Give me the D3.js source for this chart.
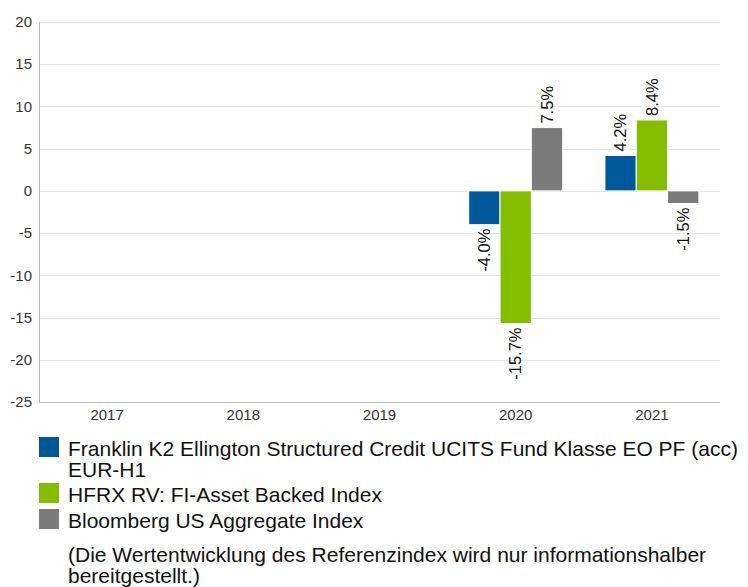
<!DOCTYPE html>
<html>
<head>
<meta charset="utf-8">
<script src="https://cdn.jsdelivr.net/npm/d3@7"></script>
<style>
  body { margin: 0; background: #fff; }
  svg { display: block; font-family: "Liberation Sans", Arial, sans-serif; }
</style>
</head>
<body>
<div id="chart"></div>
<script>
const years = ["2017", "2018", "2019", "2020", "2021"];
const seriesNames = [
    "Franklin K2 Ellington Structured Credit UCITS Fund Klasse EO PF (acc) EUR-H1",
    "HFRX RV: FI-Asset Backed Index",
    "Bloomberg US Aggregate Index"
];
const fundValues = [null, null, null, -4.0, 4.2];
const hfrxValues = [null, null, null, -15.7, 8.4];
const bloombergValues = [null, null, null, 7.5, -1.5];
const yTicks = [20, 15, 10, 5, 0, -5, -10, -15, -20, -25];
const footnote = "(Die Wertentwicklung des Referenzindex wird nur informationshalber bereitgestellt.)";

const width = 748,
    height = 587,
    margin = ({ top: 22, right: 28, bottom: 185, left: 39 });

const colors = ["#00589b", "#84bc00", "#7b7b7b"];
const allSeries = [fundValues, hfrxValues, bloombergValues];

const svg = d3.select("#chart")
    .append("svg")
    .attr("width", width)
    .attr("height", height);

let x = d3.scaleBand(years, [margin.left, width - margin.right])
    .paddingInner(0.31)
    .paddingOuter(0.155);

let xs = d3.scaleBand(d3.range(seriesNames.length), [0, x.bandwidth()]);

let y = d3.scaleLinear([-25, 20], [height - margin.bottom, margin.top]);

// grid
svg.append("g")
    .selectAll("line")
    .data(yTicks)
    .join("line")
    .attr("x1", margin.left)
    .attr("x2", width - margin.right)
    .attr("y1", d => Math.round(y(d)) + 0.5)
    .attr("y2", d => Math.round(y(d)) + 0.5)
    .attr("stroke", "#e6e6e6");

// y labels
svg.append("g")
    .selectAll("text")
    .data(yTicks)
    .join("text")
    .attr("x", margin.left - 7)
    .attr("y", d => y(d))
    .attr("dy", "0.35em")
    .attr("text-anchor", "end")
    .attr("fill", "#333")
    .style("font-size", "15px")
    .text(d => d);

// axes lines
svg.append("line")
    .attr("x1", margin.left + 0.5).attr("x2", margin.left + 0.5)
    .attr("y1", margin.top).attr("y2", height - margin.bottom)
    .attr("stroke", "#bbb");

svg.append("line")
    .attr("x1", margin.left).attr("x2", width - margin.right)
    .attr("y1", height - margin.bottom + 0.5).attr("y2", height - margin.bottom + 0.5)
    .attr("stroke", "#bbb");

// x labels
svg.append("g")
    .selectAll("text")
    .data(years)
    .join("text")
    .attr("x", d => x(d) + x.bandwidth() / 2)
    .attr("y", height - margin.bottom + 18)
    .attr("text-anchor", "middle")
    .attr("fill", "#333")
    .style("font-size", "15px")
    .text(d => d);

// bars
const barData = [];
allSeries.forEach((vals, i) => {
    vals.forEach((v, j) => {
        if (v !== null) barData.push({ year: years[j], s: i, value: v });
    });
});

svg.append("g")
    .selectAll("rect")
    .data(barData)
    .join("rect")
    .attr("x", d => x(d.year) + xs(d.s))
    .attr("y", d => y(Math.max(0, d.value)))
    .attr("width", xs.bandwidth())
    .attr("height", d => Math.abs(y(d.value) - y(0)))
    .attr("fill", d => colors[d.s])
    .attr("stroke", "#fff")
    .attr("stroke-width", 1);

svg.append("g")
    .selectAll("text")
    .data(barData)
    .join("text")
    .attr("transform", d => {
        const cx = x(d.year) + xs(d.s) + xs.bandwidth() / 2;
        const cy = d.value >= 0 ? y(d.value) - 4 : y(d.value) + 4;
        return `translate(${cx},${cy}) rotate(-90)`;
    })
    .attr("dy", "0.35em")
    .attr("text-anchor", d => d.value >= 0 ? "start" : "end")
    .attr("fill", "#111")
    .style("font-size", "16.5px")
    .text(d => d.value.toFixed(1) + "%");

// legend
function wrap(text, maxWidth) {
    text.each(function() {
        const t = d3.select(this);
        const words = t.text().split(" ");
        const x0 = t.attr("x");
        t.text(null);
        let line = [];
        let tspan = t.append("tspan").attr("x", x0);
        for (const w of words) {
            line.push(w);
            tspan.text(line.join(" "));
            if (tspan.node().getComputedTextLength() > maxWidth && line.length > 1) {
                line.pop();
                tspan.text(line.join(" "));
                line = [w];
                tspan = t.append("tspan").attr("x", x0).attr("dy", "21px").text(w);
            }
        }
    });
}

const legendY = [456, 502, 528];
const legend = svg.append("g");

legend.selectAll("rect")
    .data(seriesNames)
    .join("rect")
    .attr("x", 39)
    .attr("y", (d, i) => legendY[i] - 19)
    .attr("width", 20)
    .attr("height", 20)
    .attr("fill", (d, i) => colors[i]);

legend.selectAll("text")
    .data(seriesNames)
    .join("text")
    .attr("x", 68)
    .attr("y", (d, i) => legendY[i])
    .attr("fill", "#111")
    .style("font-size", "21px")
    .text(d => d)
    .call(wrap, 685);

svg.append("text")
    .attr("x", 68)
    .attr("y", 562)
    .attr("fill", "#111")
    .style("font-size", "21px")
    .text(footnote)
    .call(wrap, 685);
</script>
</body>
</html>
